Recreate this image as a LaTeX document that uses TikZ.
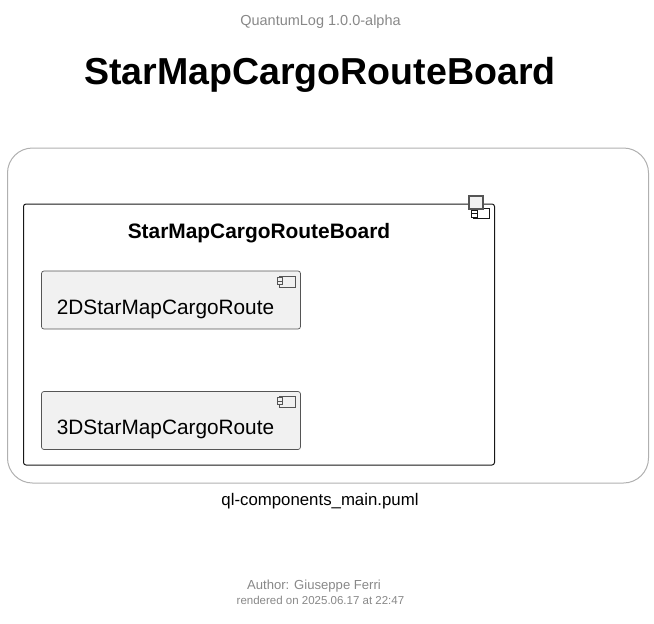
\documentclass[tikz,border=0pt]{standalone}
\usepackage{fontspec}
\setmainfont{Liberation Sans}
\definecolor{hdr}{HTML}{888888}
\definecolor{boxfill}{HTML}{F1F1F1}
\definecolor{boxline}{HTML}{181818}
\definecolor{comp}{HTML}{555555}
\definecolor{framecol}{HTML}{B0B0B0}
\tikzset{
  txt/.style={inner sep=0pt,anchor=base},
  component/.style={draw=comp,fill=boxfill,line width=0.7pt,rounded corners=2.5pt,minimum width=259pt,minimum height=58pt,inner sep=0pt},
  iconbody/.style={draw=comp,fill=boxfill,line width=0.8pt},
}
\newcommand{\compicon}[2]{%
  \draw[iconbody] (#1,#2) rectangle ++(16.5,-11);
  \draw[iconbody] (#1-2,#2-2.5) rectangle ++(5.5,-3.5);
  \draw[iconbody] (#1-2,#2-6) rectangle ++(5.5,-3.5);
}
\begin{document}
\begin{tikzpicture}[x=1pt,y=-1pt]
\useasboundingbox (0,0) rectangle (654,624);
\node[txt,text=hdr,font=\fontsize{14.5}{16}\selectfont] (version) at (320.5,25.5) {QuantumLog 1.0.0-alpha};
\node[txt,font=\fontsize{37.55}{42}\bfseries\selectfont] (title) at (320,84.5) {StarMapCargoRouteBoard};
\node[draw=framecol,line width=1pt,rounded corners=25pt,minimum width=641pt,minimum height=335pt,inner sep=0pt] (frame) at (328,315.5) {};
\node[draw=boxline,line width=1pt,rounded corners=2.5pt,minimum width=471pt,minimum height=261pt,inner sep=0pt] (pkg) at (259,334.5) {};
\draw[boxline,fill=white,line width=1pt] (473.5,218) rectangle (489.5,208);
\draw[boxline,fill=white,line width=1pt] (471.5,213.5) rectangle (477,210);
\draw[boxline,fill=white,line width=1pt] (471.5,217) rectangle (477,213.5);
\node[draw=comp,fill=boxfill,line width=2pt,minimum size=13.5pt,inner sep=0pt] (pkgicon) at (476,202.5) {};
\node[txt,font=\fontsize{20.9}{24}\bfseries\selectfont] (pkgtitle) at (259,238.5) {StarMapCargoRouteBoard};
\node[component] (c2d) at (171,300) {};
\node[txt,font=\fontsize{20.8}{24}\selectfont] (c2dl) at (165.5,314.5) {2DStarMapCargoRoute};
\compicon{279}{287}
\node[component] (c3d) at (171,420.5) {};
\node[txt,font=\fontsize{20.8}{24}\selectfont] (c3dl) at (165.5,434.5) {3DStarMapCargoRoute};
\compicon{279}{407}
\node[txt,font=\fontsize{16.8}{18}\selectfont] (file) at (320,505.5) {ql-components\_main.puml};
\node[txt,text=hdr,font=\fontsize{13.1}{16}\selectfont] (author) at (314,589) {Author: Giuseppe Ferri};
\node[txt,text=hdr,font=\fontsize{11.5}{14}\selectfont] (rendered) at (320.5,604.5) {rendered on 2025.06.17 at 22:47};
\end{tikzpicture}
\end{document}
